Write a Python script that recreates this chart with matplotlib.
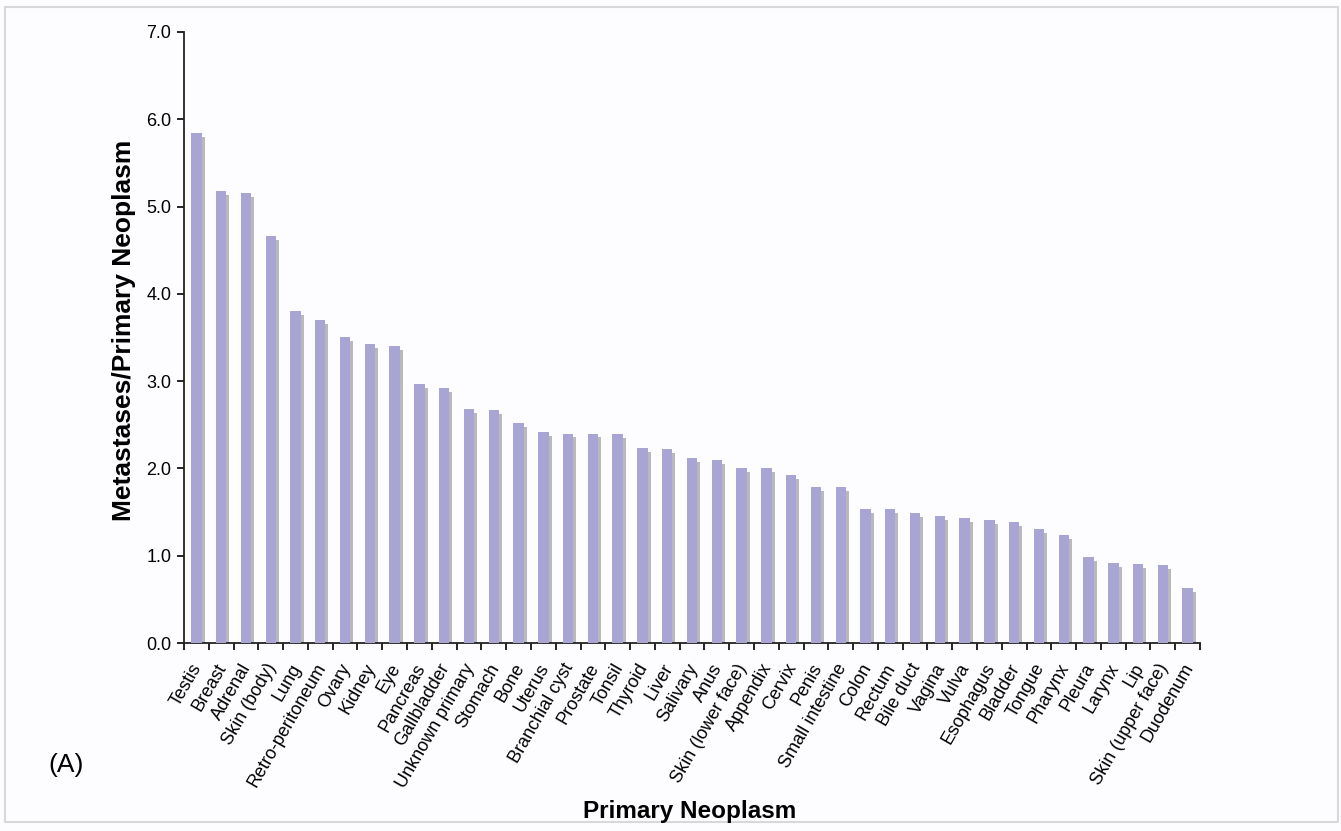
import matplotlib.pyplot as plt
import numpy as np
from matplotlib.patches import Rectangle

plt.rcParams['font.family'] = ['Liberation Sans', 'DejaVu Sans']

# primary sites and metastases/primary ratio
sites = ['Testis', 'Breast', 'Adrenal', 'Skin (body)', 'Lung', 'Retro-peritoneum',
         'Ovary', 'Kidney', 'Eye', 'Pancreas', 'Gallbladder', 'Unknown primary',
         'Stomach', 'Bone', 'Uterus', 'Branchial cyst', 'Prostate', 'Tonsil',
         'Thyroid', 'Liver', 'Salivary', 'Anus', 'Skin (lower face)', 'Appendix',
         'Cervix', 'Penis', 'Small intestine', 'Colon', 'Rectum', 'Bile duct',
         'Vagina', 'Vulva', 'Esophagus', 'Bladder', 'Tongue', 'Pharynx', 'Pleura',
         'Larynx', 'Lip', 'Skin (upper face)', 'Duodenum']
ratio = [5.84, 5.18, 5.16, 4.66, 3.80, 3.70,
         3.51, 3.42, 3.40, 2.97, 2.92, 2.68,
         2.67, 2.52, 2.42, 2.40, 2.40, 2.39,
         2.23, 2.22, 2.12, 2.10, 2.00, 2.00,
         1.92, 1.79, 1.79, 1.54, 1.53, 1.49,
         1.45, 1.43, 1.41, 1.39, 1.31, 1.24, 0.99,
         0.92, 0.90, 0.89, 0.63]

x = np.arange(len(sites))

fig = plt.figure(figsize=(13.41, 8.31), dpi=100)
fig.patch.set_facecolor('#fdfdff')
ax = fig.add_axes([0.1372, 0.2262, 0.7577, 0.7353])
ax.set_facecolor('#fdfdff')

# shadow bars first, then the lavender bars over them
ax.bar(x + 0.12, np.array(ratio) - 0.045, width=0.42, color='#b9b9bd', zorder=2)
ax.bar(x, ratio, width=0.42, color='#a8a5d5', zorder=3)

ax.set_xlim(-0.5, len(sites) - 0.5)
ax.set_ylim(0, 7.0)
ax.set_yticks(np.arange(0, 7.1, 1.0))
ax.set_yticklabels([f'{v:.1f}' for v in np.arange(0, 7.1, 1.0)], fontsize=13)
ax.set_xticks(np.arange(-0.5, len(sites), 1.0))
ax.set_xticklabels([])
ax.set_xticks(x, minor=True)
ax.set_xticklabels(sites, minor=True, rotation=60, ha='right', va='center_baseline',
                   rotation_mode='anchor', fontsize=13)
ax.tick_params(axis='x', which='minor', length=0, pad=15)
ax.tick_params(axis='x', which='major', direction='out', length=5, width=1.2)
ax.tick_params(axis='y', direction='out', length=5, width=1.2, pad=4)

for s in ['top', 'right']:
    ax.spines[s].set_visible(False)
for s in ['left', 'bottom']:
    ax.spines[s].set_linewidth(1.3)
    ax.spines[s].set_color('#222222')

fig.text(0.0925, 0.603, 'Metastases/Primary Neoplasm', rotation=90, ha='center', va='center',
         fontsize=19, fontweight='bold')
fig.text(0.5145, 0.023, 'Primary Neoplasm', ha='center', va='center', fontsize=17.5, fontweight='bold')
fig.text(0.036, 0.079, '(A)', ha='left', va='center', fontsize=19)

# light frame round the figure
fig.patches.append(Rectangle((0.004, 0.011), 0.994, 0.98, transform=fig.transFigure,
                             fill=False, edgecolor='#d8d8d8', linewidth=1.5))

fig.savefig('out.png', dpi=100, facecolor=fig.get_facecolor())
